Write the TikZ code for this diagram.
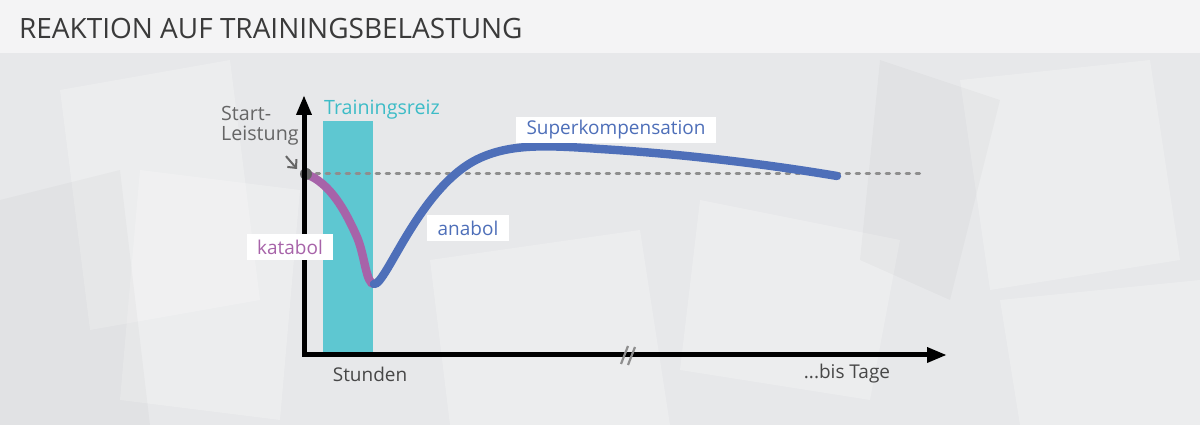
\documentclass[tikz,border=0pt]{standalone}
\usepackage{fontspec}
\setmainfont{Open Sans}
\usetikzlibrary{arrows.meta}
\definecolor{bg}{HTML}{E7E8EA}
\definecolor{band}{HTML}{F4F4F5}
\definecolor{titlegrey}{HTML}{3A3A3A}
\definecolor{textgrey}{HTML}{474747}
\definecolor{pingrey}{HTML}{666666}
\definecolor{dotgrey}{HTML}{8E8E8E}
\definecolor{reiz}{HTML}{5EC7D1}
\definecolor{reiztext}{HTML}{3DBCC7}
\definecolor{katabol}{HTML}{A763A9}
\definecolor{anabol}{HTML}{4E6FB9}

\begin{document}
\begin{tikzpicture}
  [x=0.25mm,y=-0.25mm,
   every node/.style={font=\fontsize{13.5}{12}\selectfont,inner sep=2pt},
   tag/.style={fill=white,inner xsep=2.6mm,inner ysep=0pt,minimum height=6.6mm},
   shard/.style={fill=white,opacity=0.22},
   axis/.style={line width=1.25mm,line join=miter,
     {Triangle[length=5mm,width=3.6mm]}-{Triangle[length=5mm,width=3.6mm]}},
   curve/.style={line width=2.1mm,line cap=round}]

  % background
  \fill[bg] (0,0) rectangle (1200,425);
  \fill[shard] (60,90) -- (230,60) -- (260,300) -- (90,330) -- cycle;
  \fill[shard] (140,170) -- (300,190) -- (280,420) -- (120,400) -- cycle;
  \fill[shard] (430,260) -- (640,230) -- (670,425) -- (450,425) -- cycle;
  \fill[shard] (700,200) -- (900,240) -- (870,400) -- (680,370) -- cycle;
  \fill[shard] (960,80) -- (1150,60) -- (1180,260) -- (990,290) -- cycle;
  \fill[shard] (1000,300) -- (1200,280) -- (1200,425) -- (1020,425) -- cycle;
  \fill[black,opacity=0.025] (0,200) -- (120,170) -- (150,425) -- (0,425) -- cycle;
  \fill[black,opacity=0.025] (880,60) -- (1000,100) -- (950,300) -- (860,260) -- cycle;
  \fill[band] (0,0) rectangle (1200,53);

  \node[anchor=west,font=\fontsize{19.9}{22}\selectfont,text=titlegrey] (title) at (16,29) {REAKTION AUF TRAININGSBELASTUNG};

  % training stimulus
  \fill[reiz] (323,121) rectangle (373,354);
  \node[text=reiztext,font=\fontsize{14}{12}\selectfont] (reizlbl) at (382,110) {Trainingsreiz};

  % start level
  \coordinate (start) at (306,174);
  \coordinate (dotend) at (926,174);
  \draw[dotgrey,line width=0.75mm,line cap=round,dash pattern=on 0.9mm off 1.6mm] (start) -- (dotend);

  % response curve
  \coordinate (drop) at (357,237);
  \coordinate (low) at (374,284);
  \coordinate (rise) at (480,158);
  \coordinate (peak) at (600,149);
  \coordinate (fin) at (837,176);
  \draw[curve,katabol] (start) .. controls (330,183) and (345,210) .. (drop)
    .. controls (365,256) and (366,284) .. (low);
  \draw[curve,anabol] (low) .. controls (386,286) and (420,185) .. (rise)
    .. controls (511,144) and (545,145) .. (peak)
    .. controls (700,155) and (790,168) .. (fin);
  \fill[pingrey] (start) circle (1.5mm);

  % axes
  \coordinate (origin) at (304,355);
  \coordinate (ytop) at (304,95);
  \coordinate (xend) at (947,355);
  \draw[axis] (ytop) -- (origin) -- (xend);

  % axis break
  \draw[dotgrey,line width=0.55mm] (621,364) -- (628,346) (628,365) -- (635,347);

  % labels
  \node[align=left,anchor=north west,text=pingrey,font=\fontsize{14}{14.5}\selectfont] (startlbl) at (218,103) {Start-\\Leistung};
  \coordinate (pin) at (297,169);
  \draw[pingrey,line width=0.5mm,shorten <=2.5mm,-{Straight Barb[length=1.6mm,width=3mm]}] (startlbl) -- (pin);

  \node[tag,text=katabol] (katlbl) at (290,247) {katabol};
  \node[tag,text=anabol] (analbl) at (468,228) {anabol};
  \node[tag,text=anabol] (superlbl) at (616,130) {Superkompensation};

  \node[text=textgrey] (hours) at (370,374) {Stunden};
  \node[text=textgrey] (days) at (847,374) {...bis Tage};
\end{tikzpicture}
\end{document}
